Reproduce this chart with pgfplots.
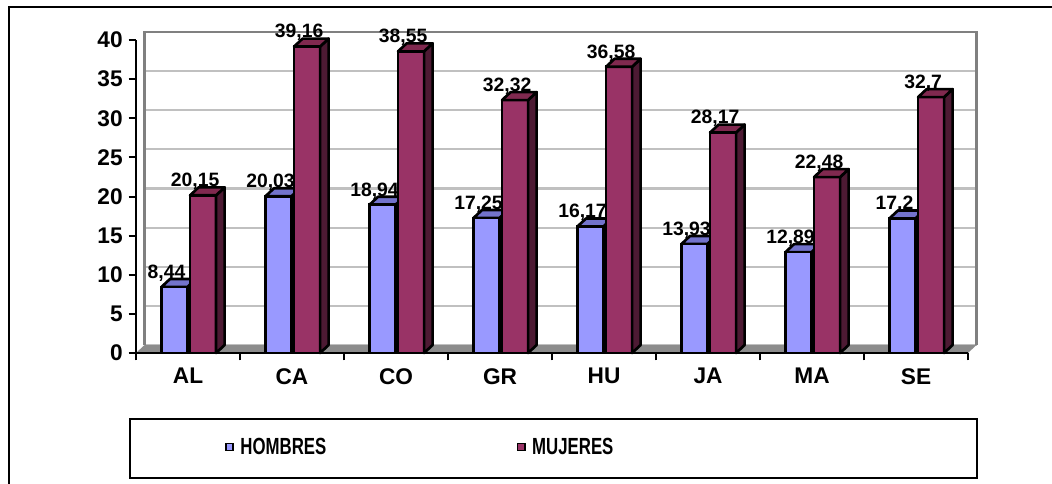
\documentclass[border=0pt]{standalone}
\usepackage{fontspec}
\setmainfont{Liberation Sans}
\usepackage{graphicx}
\usepackage{pgfplots}
\usepackage{pgfplotstable}
\pgfplotsset{compat=1.18}

\definecolor{hfront}{HTML}{9999FF}
\definecolor{htop}{HTML}{7373CC}
\definecolor{mfront}{HTML}{993366}
\definecolor{mtop}{HTML}{80294F}
\definecolor{mside}{HTML}{4D1A33}
\definecolor{gridc}{HTML}{C0C0C0}
\definecolor{wallc}{HTML}{808080}
\definecolor{floorc}{HTML}{8C8C8C}

% porcentajes por region
\pgfplotstableread{
x lab h m
0 AL 8.44 20.15
1 CA 20.03 39.16
2 CO 18.94 38.55
3 GR 17.25 32.32
4 HU 16.17 36.58
5 JA 13.93 28.17
6 MA 12.89 22.48
7 SE 17.2 32.7
}\data

\begin{document}
\begin{tikzpicture}
\useasboundingbox (0,0) rectangle (789pt,-363pt);
\draw[line width=1.5pt] (6.4pt,-380pt) -- (6.4pt,-5.4pt) -- (800pt,-5.4pt);
\draw[line width=2pt] (97.5pt,-314.25pt) rectangle (732.75pt,-358.5pt);
\begin{axis}[
  at={(102pt,-264.75pt)}, anchor=south west,
  scale only axis, width=624pt, height=234.75pt,
  xmin=-0.5, xmax=7.5, ymin=0, ymax=40,
  clip=false,
  axis x line*=bottom, axis y line*=left,
  axis line style={black, line width=1.9pt},
  tick align=outside, major tick length=5.5pt,
  tick style={black, line width=1.5pt},
  ytick={0,5,...,40},
  xtick={-0.5,0.5,...,7.5}, xticklabels={},
  extra x ticks={0,...,7},
  extra x tick labels={AL,CA,CO,GR,HU,JA,MA,SE},
  extra x tick style={major tick length=0pt, grid=none},
  ymajorgrids,
  major grid style={draw=gridc, line width=1.6pt, xshift=6.4pt, yshift=6pt},
  /pgf/number format/assume math mode=true,
  /pgf/number format/use comma,
  yticklabel style={font=\fontsize{17}{19}\selectfont\bfseries, xshift=-1pt},
  xticklabel style={font=\fontsize{17}{19}\selectfont\bfseries, yshift=-8pt},
  legend image code/.code={\draw[#1, line width=1pt] (0pt,-2.7pt) rectangle (5.4pt,2.7pt);},
  legend style={at={(0.107,-0.300)}, anchor=west, draw=none, fill=none,
    inner sep=0pt, legend columns=2,
    font=\fontsize{17.5}{19}\selectfont\bfseries,
    /tikz/every odd column/.append style={column sep=3pt},
    /tikz/every even column/.append style={column sep=141pt}},
]
% suelo y pared del fondo
\fill[floorc] (rel axis cs:0,0) -- ([xshift=6.4pt,yshift=6pt]rel axis cs:0,0)
  -- ([xshift=6.4pt,yshift=6pt]rel axis cs:1,0) -- (rel axis cs:1,0) -- cycle;
\draw[wallc, line width=2.2pt] ([xshift=6.4pt,yshift=6pt]rel axis cs:0,0)
  -- ([xshift=6.4pt,yshift=6pt]rel axis cs:0,1)
  -- ([xshift=6.4pt,yshift=6pt]rel axis cs:1,1)
  -- ([xshift=6.4pt,yshift=6pt]rel axis cs:1,0);
\draw[black, line width=1.9pt] (rel axis cs:0,0) -- (rel axis cs:1,0);

% caras superiores HOMBRES
\pgfplotsforeachungrouped \row in {0,...,7}{%
  \pgfplotstablegetelem{\row}{h}\of\data \let\vh\pgfplotsretval
  \pgfmathsetmacro\xa{\row-0.255}%
  \pgfmathsetmacro\xb{\row-0.005}%
  \pgfmathsetmacro\xc{\row-0.173}%
  \pgfmathsetmacro\xd{\row+0.077}%
  \pgfmathsetmacro\yt{\vh+1.02}%
  \edef\temp{\noexpand\addplot[forget plot, fill=htop, draw=black, line width=2pt, line join=round]
    coordinates {(\xa,\vh) (\xc,\yt) (\xd,\yt) (\xb,\vh)} -- cycle;}%
  \temp
}

\addplot[ybar, bar width=0.25, bar shift=-0.13, fill=hfront, draw=black, line width=2pt]
  table[x=x, y=h] {\data};
\addplot[ybar, bar width=0.25, bar shift=0.145, fill=mfront, draw=black, line width=2pt]
  table[x=x, y=m] {\data};

% caras superiores y laterales MUJERES
\pgfplotsforeachungrouped \row in {0,...,7}{%
  \pgfplotstablegetelem{\row}{m}\of\data \let\vm\pgfplotsretval
  \pgfmathsetmacro\xa{\row+0.02}%
  \pgfmathsetmacro\xb{\row+0.27}%
  \pgfmathsetmacro\xc{\row+0.102}%
  \pgfmathsetmacro\xd{\row+0.352}%
  \pgfmathsetmacro\yt{\vm+1.02}%
  \edef\temp{\noexpand\addplot[forget plot, fill=mside, draw=black, line width=2pt, line join=round]
    coordinates {(\xb,0) (\xd,1.02) (\xd,\yt) (\xb,\vm)} -- cycle;
    \noexpand\addplot[forget plot, fill=mtop, draw=black, line width=2pt, line join=round]
    coordinates {(\xa,\vm) (\xc,\yt) (\xd,\yt) (\xb,\vm)} -- cycle;}%
  \temp
}

% etiquetas de valores
\addplot[forget plot, draw=none, nodes near coords,
  nodes near coords style={font=\fontsize{14.5}{16}\selectfont\bfseries, text=black,
    anchor=base, xshift=-6pt, yshift=6.5pt}]
  table[x expr=\thisrow{x}-0.13, y=h] {\data};
\addplot[forget plot, draw=none, nodes near coords,
  nodes near coords style={font=\fontsize{14.5}{16}\selectfont\bfseries, text=black,
    anchor=base, xshift=-6pt, yshift=6.5pt}]
  table[x expr=\thisrow{x}+0.145, y=m] {\data};

\legend{\scalebox{0.72}[1]{HOMBRES},\scalebox{0.72}[1]{MUJERES}}
\end{axis}
\end{tikzpicture}
\end{document}
